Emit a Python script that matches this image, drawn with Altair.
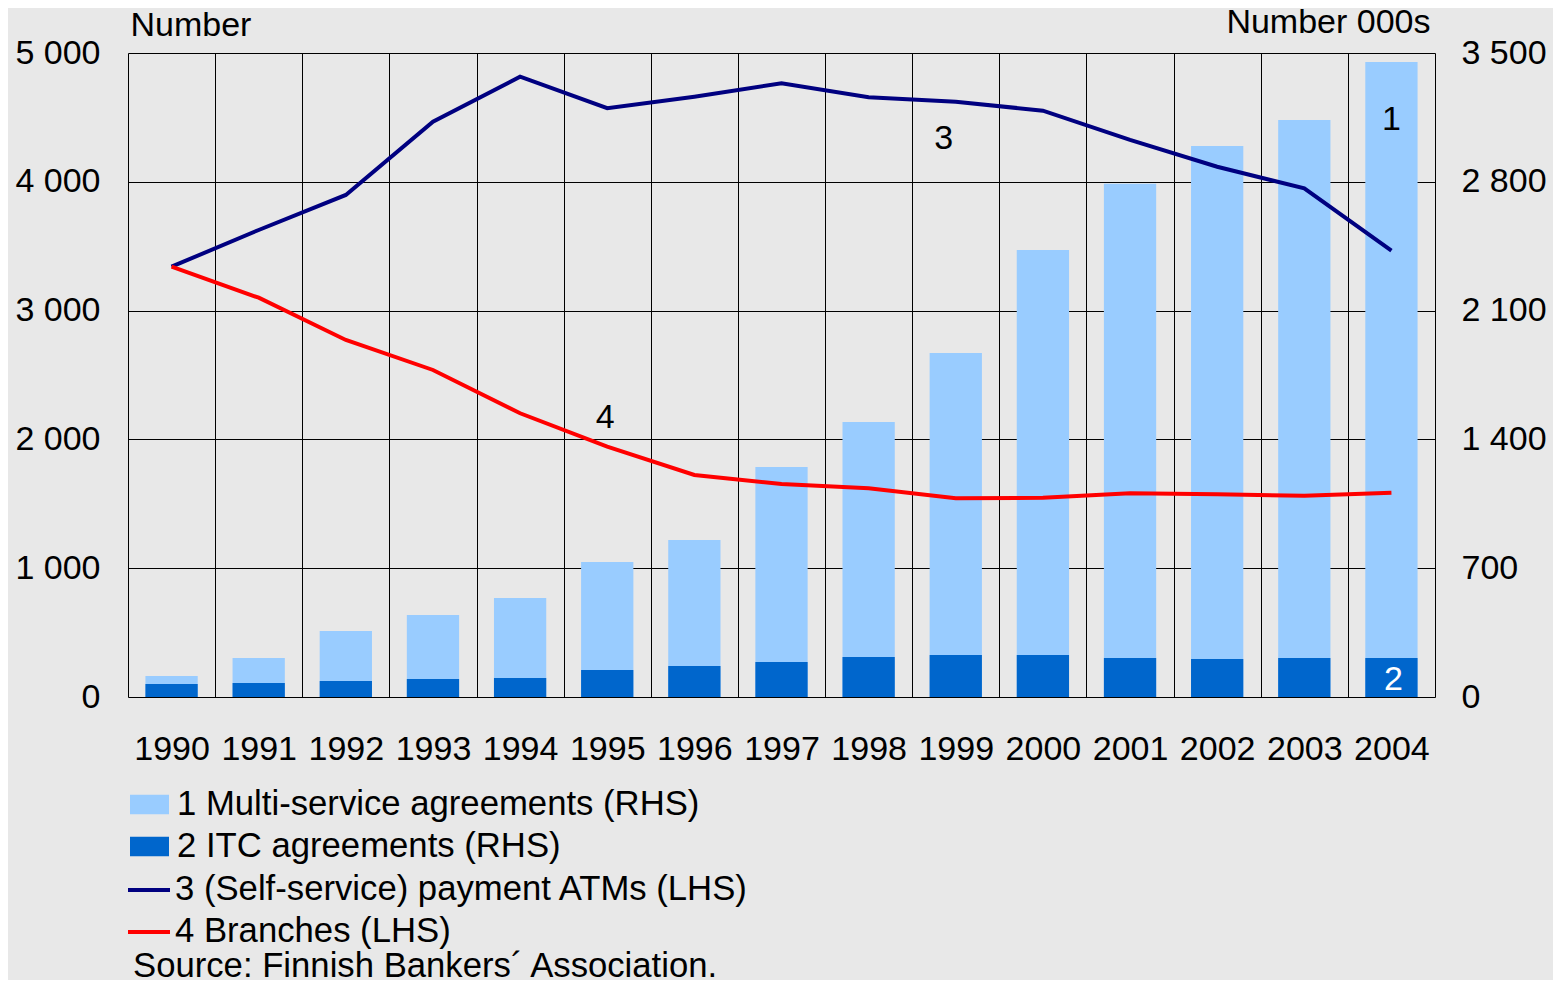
import altair as alt
import pandas as pd

# ---------------- data ----------------
years = list(range(1990, 2005))
multi_service = [114, 212, 359, 446, 538, 734, 853, 1250, 1495, 1870, 2429, 2790, 2995, 3136, 3451]
itc = [71, 76, 87, 98, 103, 147, 168, 190, 217, 228, 228, 212, 207, 212, 212]
atms = [3341, 3626, 3898, 4467, 4816, 4571, 4661, 4765, 4656, 4622, 4552, 4325, 4117, 3949, 3465]
branches = [3341, 3100, 2772, 2539, 2203, 1944, 1724, 1654, 1620, 1543, 1547, 1581, 1574, 1563, 1586]

bar_names = ["1 Multi-service agreements (RHS)", "2 ITC agreements (RHS)"]
line_names = ["3 (Self-service) payment ATMs (LHS)", "4 Branches (LHS)"]
left_ticks = [0, 1000, 2000, 3000, 4000, 5000]
right_ticks = [0, 700, 1400, 2100, 2800, 3500]

ann_text = ["1", "2", "3", "4"]
ann_year = [2004, 2004, 1999, 1995]
ann_value = [4480, 132, 4332, 2166]
source_text = "Source: Finnish Bankers\u00b4 Association."

# ---------------- tables ----------------
bars_df = pd.DataFrame({
    "year": years * 2,
    "series": [bar_names[0]] * len(years) + [bar_names[1]] * len(years),
    "val": multi_service + itc,
})
lines_df = pd.DataFrame({
    "year": years * 2,
    "series": [line_names[0]] * len(years) + [line_names[1]] * len(years),
    "value": atms + branches,
})

FONT = "Liberation Sans"
FS = 34
LFS = 34.7

x_axis = alt.Axis(title=None, labelAngle=0, ticks=False, domain=False, grid=True,
                  tickBand="extent", gridColor="#000000", gridWidth=1,
                  labelFontSize=FS, labelPadding=35, labelColor="black")
x_scale = alt.Scale(paddingInner=0, paddingOuter=0)

left_axis = alt.Axis(values=left_ticks, title="Number", titleAngle=0, titleX=2, titleY=-18,
                     titleAlign="left", titleBaseline="alphabetic", titleFontSize=FS,
                     titleFontWeight="normal", titleColor="black",
                     labelExpr="replace(format(datum.value, ','), ',', ' ')",
                     labelFontSize=FS, labelPadding=28, labelColor="black",
                     ticks=False, domain=False, grid=True, gridColor="#000000", gridWidth=1)
left_scale = alt.Scale(domain=[0, 5000], nice=False)

right_axis = alt.Axis(orient="right", values=right_ticks, title="Number 000s", titleAngle=0,
                      titleX=-5, titleY=-21, titleAlign="right", titleBaseline="alphabetic",
                      titleFontSize=FS, titleFontWeight="normal", titleColor="black",
                      labelExpr="replace(format(datum.value, ','), ',', ' ')",
                      labelFontSize=FS, labelPadding=26, labelColor="black",
                      ticks=False, domain=False, grid=False)
right_scale = alt.Scale(domain=[0, 3500], nice=False)

bars = alt.Chart(bars_df).mark_bar(width=alt.RelativeBandSize(0.6)).encode(
    x=alt.X("year:O", axis=x_axis, scale=x_scale),
    y=alt.Y("val:Q", axis=right_axis, scale=right_scale, stack=None),
    fill=alt.Fill("series:N", scale=alt.Scale(domain=bar_names, range=["#99CCFF", "#0066CC"]),
                  legend=alt.Legend(orient="none", legendX=2, legendY=732, title=None,
                                    symbolType="M-1,-0.5H1V0.5H-1Z", symbolSize=1521,
                                    symbolStrokeWidth=0, labelFontSize=LFS, labelOffset=8,
                                    rowPadding=5, padding=0, labelLimit=2000,
                                    labelColor="black")),
    order=alt.Order("series:N"),
)

lines = alt.Chart(lines_df).mark_line(strokeWidth=4).encode(
    x=alt.X("year:O", axis=x_axis, scale=x_scale, bandPosition=0.5),
    y=alt.Y("value:Q", axis=left_axis, scale=left_scale),
    stroke=alt.Stroke("series:N", scale=alt.Scale(domain=line_names, range=["#000080", "#FF0000"]),
                      legend=alt.Legend(orient="none", legendX=-2, legendY=814, title=None,
                                        symbolType="stroke", symbolSize=1764, symbolStrokeWidth=4,
                                        labelFontSize=LFS, labelOffset=3, rowPadding=2,
                                        padding=0, labelLimit=2000, labelColor="black")),
)

ann_dx = {"1": 0, "2": 2, "3": -12, "4": -2}
ann_col = {"1": "black", "2": "white", "3": "black", "4": "black"}
ann_layers = []
for t, yr, v in zip(ann_text, ann_year, ann_value):
    df = pd.DataFrame({"year": [yr], "value": [v], "label": [t]})
    ann_layers.append(
        alt.Chart(df).mark_text(fontSize=FS, font=FONT, color=ann_col[t], dx=ann_dx[t],
                                baseline="middle", align="center").encode(
            x=alt.X("year:O", axis=x_axis, scale=x_scale, bandPosition=0.5),
            y=alt.Y("value:Q", axis=left_axis, scale=left_scale),
            text="label:N",
        )
    )

source = alt.Chart(pd.DataFrame({"t": [source_text]})).mark_text(
    fontSize=LFS, font=FONT, color="black", align="left", baseline="alphabetic"
).encode(x=alt.value(5), y=alt.value(924), text="t:N")

left_group = alt.layer(lines, *ann_layers, source)

chart = alt.layer(bars, left_group).resolve_scale(y="independent").properties(
    width=1307, height=644,
    padding={"left": 120, "top": 45, "right": 118, "bottom": 283},
    autosize=alt.AutoSizeParams(type="none"),
    background="#E8E8E8",
).configure_view(
    fill="white", stroke="black", strokeWidth=2
).configure(
    font=FONT
)

chart.save("out.html", embed_options={"renderer": "svg", "actions": False})
